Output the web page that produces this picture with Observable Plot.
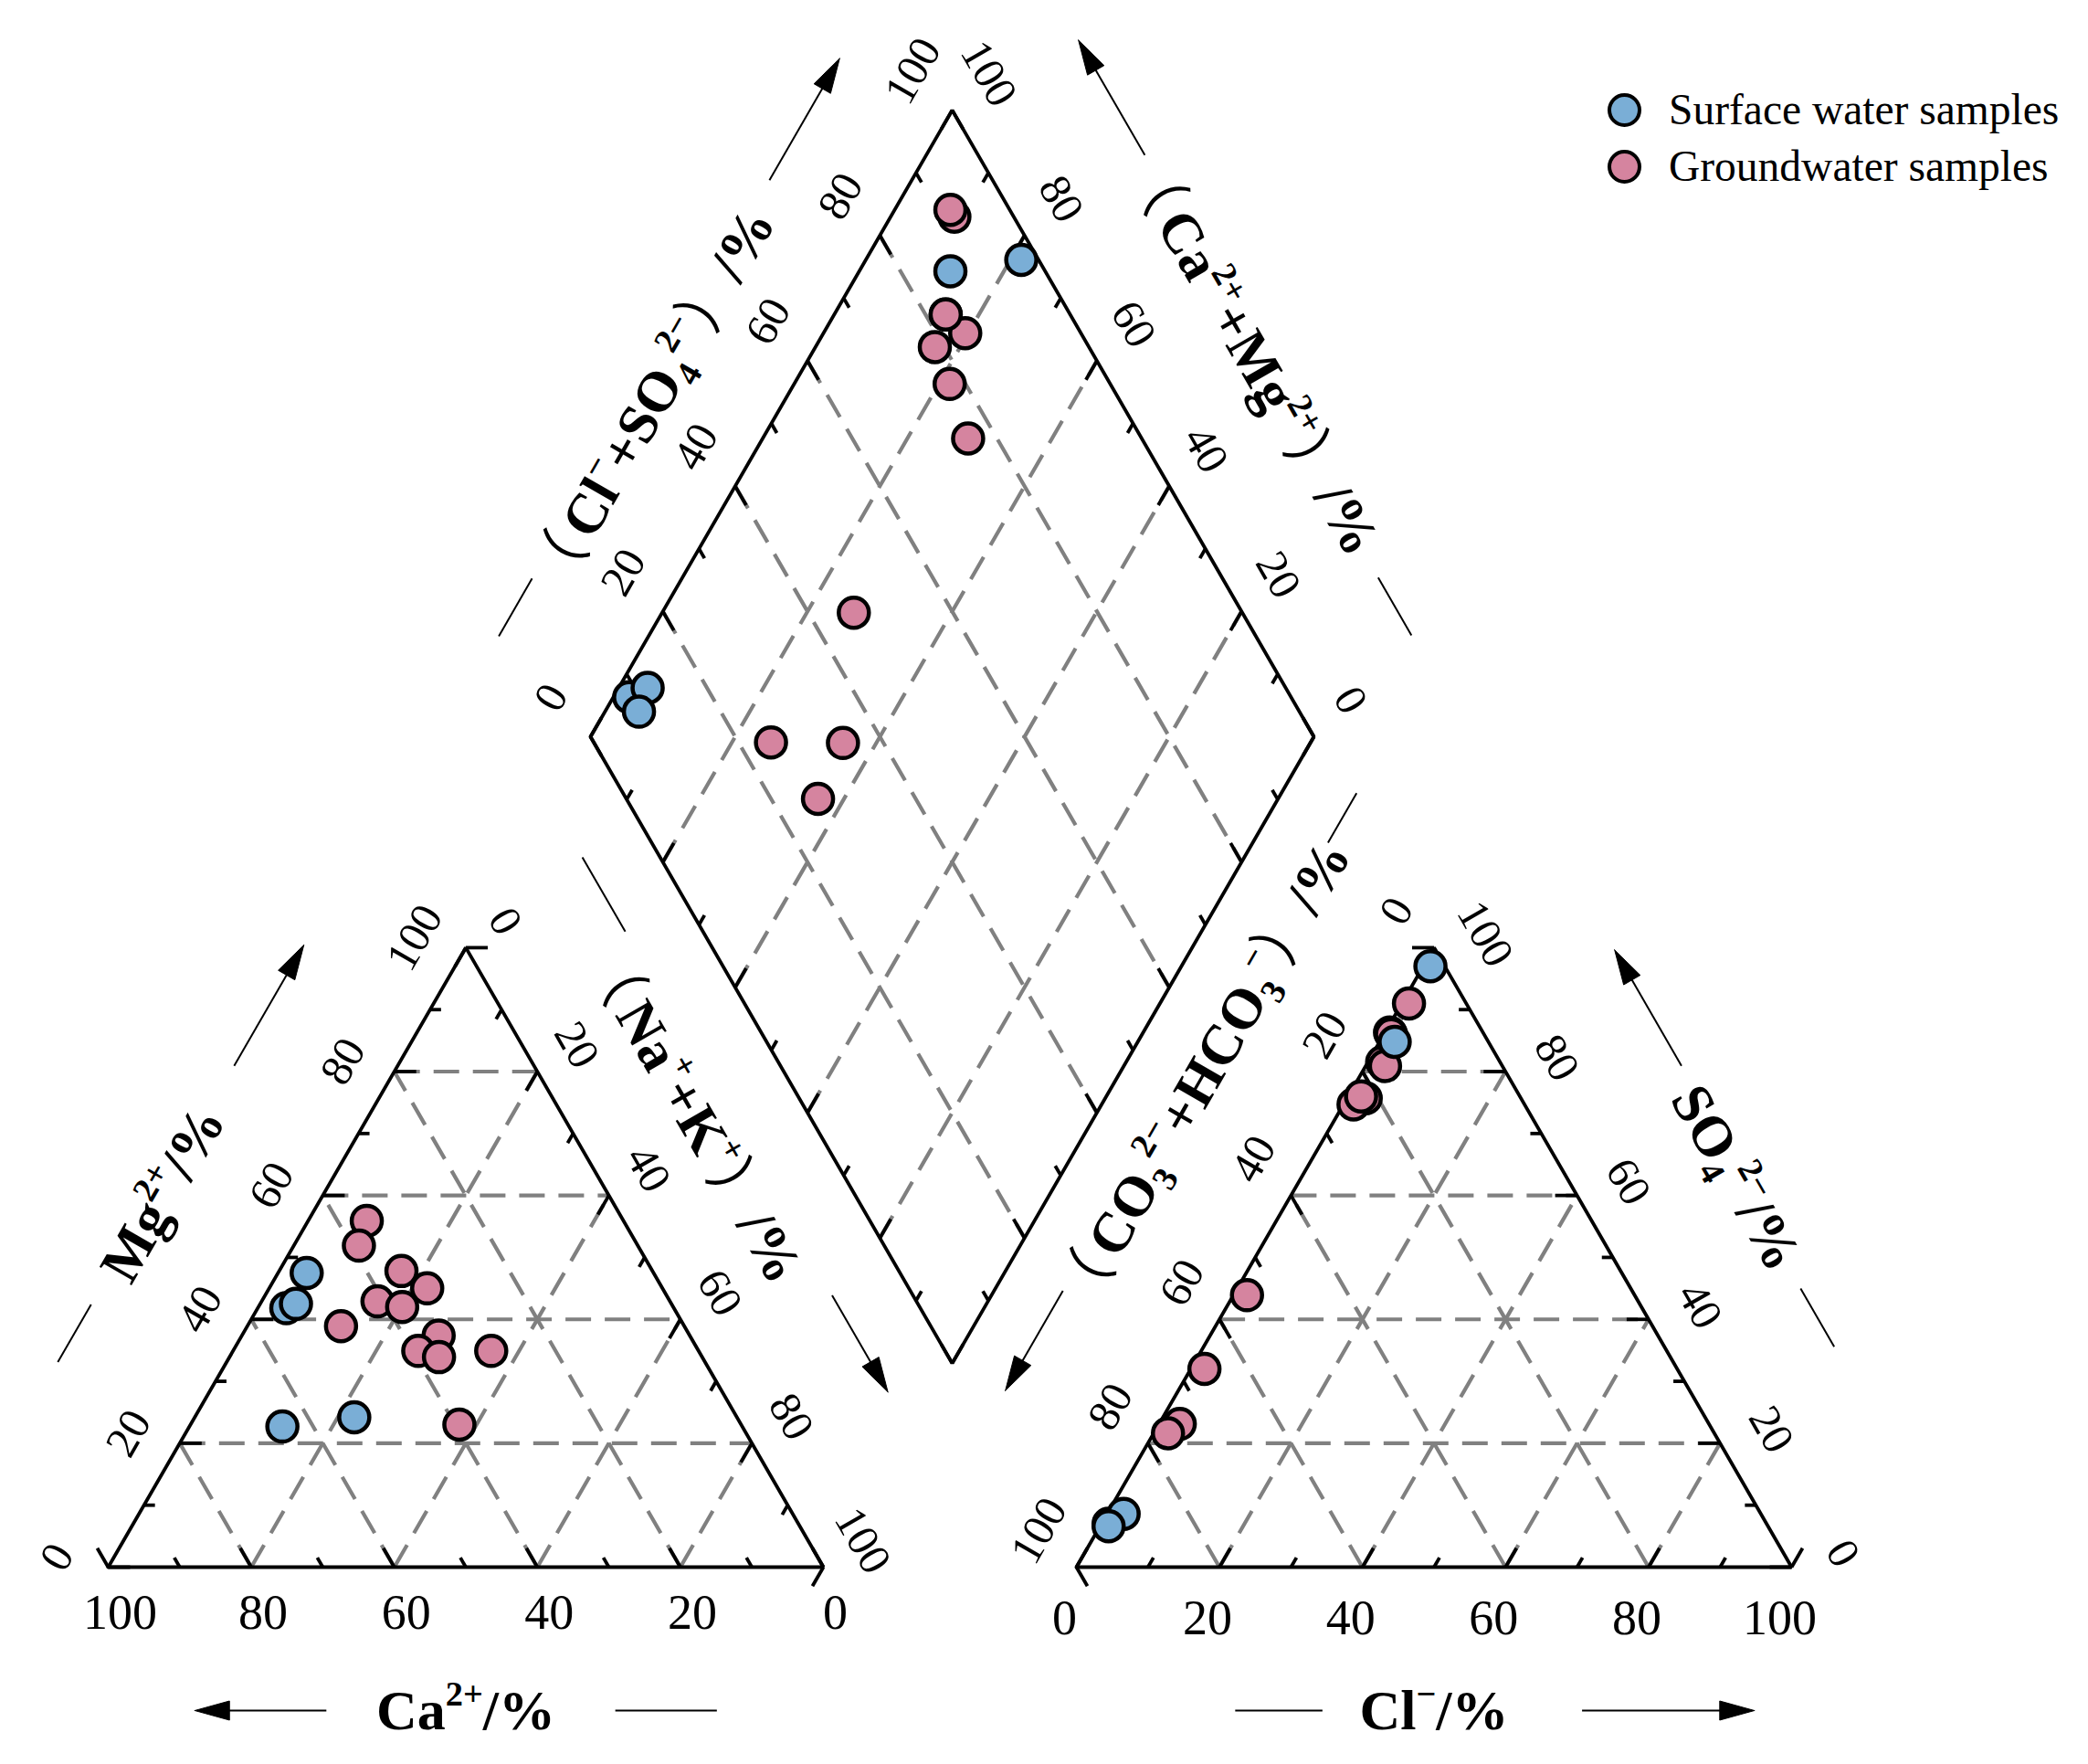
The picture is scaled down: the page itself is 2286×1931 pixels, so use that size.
<!DOCTYPE html>
<html><head><meta charset="utf-8">
<script src="https://cdn.jsdelivr.net/npm/d3@7"></script>
<script src="https://cdn.jsdelivr.net/npm/@observablehq/plot@0.6"></script>
<style>
html,body{margin:0;padding:0;background:#fff;overflow:hidden;}
#wrap{position:relative;width:2286px;height:1931px;}
#legend{position:absolute;left:1760px;top:89px;font-family:"Liberation Serif","Times New Roman",serif;font-size:47.5px;color:#000;}
.item{display:flex;align-items:center;height:62px;white-space:nowrap;}
.sw{width:29px;height:29px;border:4.5px solid #000;border-radius:50%;margin-right:30px;flex:none;}
</style></head><body>
<div id="wrap"><div id="chart"></div><div id="legend"></div></div>
<script>
// ---------------- data ----------------
const sampleGroup = ["Surface","Surface","Surface","Surface","Surface",
  "Groundwater","Groundwater","Groundwater","Groundwater","Groundwater","Groundwater",
  "Groundwater","Groundwater","Groundwater","Groundwater","Groundwater","Groundwater"];
// cations, % meq
const ca  = [54.2,48.5,52.5,64.3,53.5, 35.9,39.0,35.1,32.9,40.9,37.9,48.0,35.1,39.2,36.8,29.0,39.4];
const mg  = [41.8,47.5,42.5,22.7,24.2, 55.9,51.9,47.8,45.0,42.9,42.0,38.9,37.4,34.9,33.9,34.9,23.0];
const naK = [4.0,4.0,5.0,13.0,22.3, 8.2,9.1,17.1,22.1,16.2,20.1,13.1,27.5,25.9,29.3,36.1,37.6];
// anions, % meq
const hco3 = [92.0,89.1,92.2,13.1,2.0, 8.0,13.0,16.5,16.4,21.7,23.9,13.0,22.2,54.2,74.0,66.1,76.4];
const so4  = [7.0,8.6,6.6,84.8,97.0, 91.0,86.3,81.5,80.9,75.7,74.7,86.0,76.0,43.9,23.1,32.0,21.6];
const cl   = [1.0,2.3,1.2,2.1,1.0, 1.0,0.7,2.0,2.7,2.6,1.4,1.0,1.8,1.9,2.9,1.9,2.0];
// diamond positions as plotted: (Na+K) %, (Cl+SO4) %
const dNaK   = [2.2,4.0,4.7,12.6,21.5, 8.8,7.7,16.5,21.5,15.4,19.6,15.4,28.4,26.5,25.4,35.4,36.4];
const dClSO4 = [8.5,11.8,8.7,86.9,97.6, 91.8,91.8,78.7,77.8,82.8,84.0,82.8,76.0,46.3,24.5,34.4,26.5];

const tickSteps  = [0,10,20,30,40,50,60,70,80,90,100];
const tickLabels = [0,20,40,60,80,100];
const gridSteps  = [20,40,60,80];
const groups = ["Surface","Groundwater"];
const legendLabels = ["Surface water samples","Groundwater samples"];
const groupColor = {Surface:"#7aaed6", Groundwater:"#d5849f"};
const titles = {
  ca:"Ca^{2+}/%", mg:"Mg^{2+}/%", nak:"（Na^{+}+K^{+}）/%",
  cl:"Cl^{−}/%", so4:"SO_{4}^{2−}/%", hco3:"（CO_{3}^{2−}+HCO_{3}^{−}）/%",
  clso4:"（Cl^{−}+SO_{4}^{2−}）/%", camg:"（Ca^{2+}+Mg^{2+}）/%"
};

// ---------------- layout ----------------
const W = 2286, H = 1931;
const S = 783, TH = S*Math.sqrt(3)/2, BASE = 1715, CX0 = 118, AX0 = 1178;
const DC = [1042, 806], DS = 792, DH = DS*Math.sqrt(3)/2;
const VL = [DC[0]-DS/2, DC[1]], VR = [DC[0]+DS/2, DC[1]], VT = [DC[0], DC[1]-DH], VB = [DC[0], DC[1]+DH];
const SERIF = "Liberation Serif, Times New Roman, serif";

const cat = (a,b,c) => { const s=a+b+c, m=b/s, n=c/s; return [CX0+S*(n+m/2), BASE-TH*m]; };
const ani = (a,b,c) => { const s=a+b+c, so=b/s, c1=c/s; return [AX0+S*(c1+so/2), BASE-TH*so]; };
const dia = (p,q) => [VL[0]+p/100*(VB[0]-VL[0])+q/100*(VT[0]-VL[0]),
                      VL[1]+p/100*(VB[1]-VL[1])+q/100*(VT[1]-VL[1])];
const add = (P,d) => [P[0]+d[0], P[1]+d[1]];

const cBL = cat(100,0,0), cAp = cat(0,100,0), cBR = cat(0,0,100);
const aBL = ani(100,0,0), aAp = ani(0,100,0), aBR = ani(0,0,100);

// outlines
const outlines = [];
[[cBL,cAp,cBR,cBL],[aBL,aAp,aBR,aBL],[VL,VT,VR,VB,VL]].forEach((poly,i)=>
  poly.forEach(p=>outlines.push({x:p[0],y:p[1],z:i})));

// grid segments
const grid = [];
const seg = (A,B,arr) => arr.push({x1:A[0],y1:A[1],x2:B[0],y2:B[1]});
for (const v of gridSteps) {
  seg(cat(100-v,v,0), cat(0,v,100-v), grid);
  seg(cat(100-v,0,v), cat(0,100-v,v), grid);
  seg(cat(v,0,100-v), cat(v,100-v,0), grid);
  seg(ani(100-v,v,0), ani(0,v,100-v), grid);
  seg(ani(100-v,0,v), ani(0,100-v,v), grid);
  seg(ani(v,0,100-v), ani(v,100-v,0), grid);
  seg(dia(v,0), dia(v,100), grid);
  seg(dia(0,v), dia(100,v), grid);
}
// ticks
const ticks = [];
const r3 = Math.sqrt(3)/2;
const tick = (P,d,v) => { const len = v%20===0 ? 24 : 12; seg(P, [P[0]+d[0]*len, P[1]+d[1]*len], ticks); };
for (const v of tickSteps) {
  tick(cat(v,0,100-v), [-0.5,-r3], v);
  tick(cat(100-v,v,0), [1,0], v);
  tick(cat(0,100-v,v), [-0.5,r3], v);
  tick(ani(100-v,0,v), [0.5,-r3], v);
  tick(ani(0,v,100-v), [-1,0], v);
  tick(ani(v,100-v,0), [0.5,r3], v);
  tick(dia(v,0), [0.5,-r3], v);
  tick(dia(v,100), [-0.5,r3], v);
  tick(dia(0,v), [0.5,r3], v);
  tick(dia(100,v), [-0.5,-r3], v);
}
// tick labels
const flatLabels = [], slantLabels = [];
for (const v of tickLabels) {
  let p;
  p = add(cat(v,0,100-v), [13,50]);   flatLabels.push({x:p[0],y:p[1],t:String(v)});
  p = add(ani(100-v,0,v), [-13,56]);  flatLabels.push({x:p[0],y:p[1],t:String(v)});
  p = add(cat(100-v,v,0), [-56,-11]); slantLabels.push({x:p[0],y:p[1],t:String(v),r:-60});
  p = add(cat(0,100-v,v), [43,-29]);  slantLabels.push({x:p[0],y:p[1],t:String(v),r:60});
  p = add(ani(0,v,100-v), [56,-15]);  slantLabels.push({x:p[0],y:p[1],t:String(v),r:60});
  p = add(ani(v,100-v,0), [-41,-40]); slantLabels.push({x:p[0],y:p[1],t:String(v),r:-60});
  p = add(dia(0,v), [-43,-43]);       slantLabels.push({x:p[0],y:p[1],t:String(v),r:-60});
  p = add(dia(100-v,100), [40,-40]);  slantLabels.push({x:p[0],y:p[1],t:String(v),r:60});
}

// axis titles, arrows and leader lines placed along edges
const edgePt = (A,B,t,n) => { const dx=B[0]-A[0], dy=B[1]-A[1], L=Math.hypot(dx,dy);
  return [A[0]+t*dx+n*dy/L, A[1]+t*dy-n*dx/L]; };
const titleSpecs = [
  {k:"mg",   A:cBL, B:cAp, t:0.49,  n:152, r:-60, ar:[0.695,0.89,155],  ln:[0.213,0.306,160]},
  {k:"ca",   A:cBR, B:cBL, t:0.5,   n:158, r:0,   ar:[0.695,0.879,157], ln:[0.149,0.291,157]},
  {k:"nak",  A:cAp, B:cBR, t:0.36,  n:124, r:60,  ar:[0.677,0.833,157], ln:[-0.028,0.092,160]},
  {k:"cl",   A:aBR, B:aBL, t:0.5,   n:158, r:0,   ar:[0.293,0.052,157], ln:[0.656,0.778,157]},
  {k:"so4",  A:aAp, B:aBR, t:0.49,  n:160, r:60,  ar:[0.316,0.129,170], ln:[0.669,0.763,161]},
  {k:"hco3", A:aBL, B:aAp, t:0.683, n:148, r:-60, ar:[0.325,0.164,164], ln:[1.053,1.133,158]},
  {k:"clso4",A:VL,  B:VT,  t:0.445, n:125, r:-60, ar:[0.79,0.984,135],  ln:[0.057,0.149,142]},
  {k:"camg", A:VT,  B:VR,  t:0.50,  n:150, r:60,  ar:[0.187,0.0035,158],ln:[0.854,0.946,148]}
];
const titleText = [], leaders = [], heads = [];
titleSpecs.forEach((s,i) => {
  const p = edgePt(s.A,s.B,s.t,s.n);
  titleText.push({x:p[0], y:p[1], t:titles[s.k], r:s.r});
  seg(edgePt(s.A,s.B,s.ln[0],s.ln[2]), edgePt(s.A,s.B,s.ln[1],s.ln[2]), leaders);
  const P0 = edgePt(s.A,s.B,s.ar[0],s.ar[2]), P1 = edgePt(s.A,s.B,s.ar[1],s.ar[2]);
  const dx=P1[0]-P0[0], dy=P1[1]-P0[1], L=Math.hypot(dx,dy), ux=dx/L, uy=dy/L;
  const hl = 38, hw = 10.5;
  const bx = P1[0]-ux*hl, by = P1[1]-uy*hl;
  seg(P0, [bx+ux*4, by+uy*4], leaders);
  [[P1[0],P1[1]],[bx-uy*hw,by+ux*hw],[bx+uy*hw,by-ux*hw],[P1[0],P1[1]]]
    .forEach(q=>heads.push({x:q[0],y:q[1],z:i}));
});

// sample points
const samples = sampleGroup.map((g,i)=>({g, c:cat(ca[i],mg[i],naK[i]), a:ani(hco3[i],so4[i],cl[i]), d:dia(dNaK[i],dClSO4[i])}));
const pts = [];
for (const g of ["Groundwater","Surface"]) for (const s of samples.filter(s=>s.g===g))
  for (const k of ["c","a","d"]) pts.push({x:s[k][0], y:s[k][1], g});

const plot = Plot.plot({
  width: W, height: H, margin: 0,
  x: {domain:[0,W], range:[0,W], axis:null},
  y: {domain:[0,H], range:[0,H], axis:null},
  style: {background:"#fff"},
  marks: [
    Plot.link(grid, {x1:"x1",y1:"y1",x2:"x2",y2:"y2", stroke:"#808080", strokeWidth:4.2, strokeDasharray:"28,15"}),
    Plot.link(ticks, {x1:"x1",y1:"y1",x2:"x2",y2:"y2", stroke:"#000", strokeWidth:3.8}),
    Plot.line(outlines, {x:"x", y:"y", z:"z", stroke:"#000", strokeWidth:3.8, strokeLinejoin:"miter"}),
    Plot.link(leaders, {x1:"x1",y1:"y1",x2:"x2",y2:"y2", stroke:"#000", strokeWidth:2}),
    Plot.line(heads, {x:"x", y:"y", z:"z", fill:"#000", stroke:"#000", strokeWidth:1}),
    Plot.text(flatLabels, {x:"x", y:"y", text:"t", fontSize:54, fontFamily:SERIF, textAnchor:"middle", lineAnchor:"middle", fill:"#000"}),
    Plot.text(slantLabels, {x:"x", y:"y", text:"t", rotate:"r", fontSize:49, fontFamily:SERIF, textAnchor:"middle", lineAnchor:"middle", fill:"#000"}),
    Plot.text(titleText, {x:"x", y:"y", text:"t", rotate:"r", fontSize:62, fontWeight:"bold", fontFamily:SERIF, textAnchor:"middle", lineAnchor:"middle", fill:"#000"}),
    Plot.dot(pts, {x:"x", y:"y", r:16.5, fill:d=>groupColor[d.g], stroke:"#000", strokeWidth:4.5})
  ]
});

// superscript / subscript markup -> tspans; full-width brackets drawn thin
const NS = "http://www.w3.org/2000/svg";
plot.querySelectorAll("text").forEach(el => {
  const s = el.textContent;
  if (!/[\^_]\{|（/.test(s)) return;
  const fsEl = el.closest("[font-size]");
  const F = fsEl ? parseFloat(fsEl.getAttribute("font-size")) : 60;
  const parts = s.split(/(\^\{[^}]*\}|_\{[^}]*\}|（|）)/).filter(x=>x);
  el.textContent = "";
  let cur = 0, gap = 0;
  for (const p of parts) {
    let off = 0, size = null, str = p, thin = false;
    if (p.startsWith("^{")) { off = -0.42*F; size = 0.62*F; str = p.slice(2,-1); }
    else if (p.startsWith("_{")) { off = 0.2*F; size = 0.62*F; str = p.slice(2,-1); }
    else if (p === "（" || p === "）") thin = true;
    const t = document.createElementNS(NS, "tspan");
    t.setAttribute("dy", (off-cur).toFixed(2));
    if (gap) t.setAttribute("dx", gap.toFixed(1));
    if (size) t.setAttribute("font-size", size.toFixed(1));
    if (thin) { t.setAttribute("font-weight", "normal"); t.setAttribute("font-family", "Noto Sans CJK SC, Noto Sans CJK JP, sans-serif"); }
    t.textContent = str;
    el.appendChild(t);
    cur = off;
    gap = p === "（" ? 0.14*F : 0;
  }
});
document.getElementById("chart").appendChild(plot);

// legend
const lg = d3.select("#legend");
groups.forEach((g,i) => {
  const it = lg.append("div").attr("class","item");
  it.append("div").attr("class","sw").style("background", groupColor[g]);
  it.append("span").text(legendLabels[i]);
});
</script>
</body></html>
